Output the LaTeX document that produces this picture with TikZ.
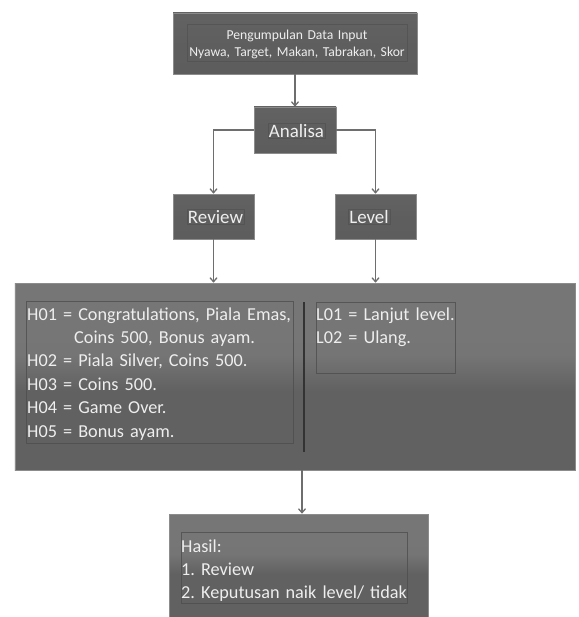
\documentclass[tikz,border=0pt]{standalone}
\usepackage{fontspec}
\setmainfont{Carlito}
\usetikzlibrary{arrows.meta}
\definecolor{txt}{HTML}{EEEEEE}
\definecolor{arrowcol}{HTML}{6E6E6E}
\definecolor{framecol}{HTML}{4E4E4E}
\definecolor{edgecol}{HTML}{8C8C8C}
\pgfdeclareverticalshading{bigshade}{100bp}{color(0bp)=(edgecol); color(2bp)=(black!62); color(46bp)=(black!62); color(56bp)=(black!54); color(97bp)=(black!53); color(100bp)=(black!35)}
\pgfdeclareverticalshading{smallshade}{100bp}{color(0bp)=(black!55); color(3bp)=(black!64); color(50bp)=(black!63); color(96bp)=(black!60); color(100bp)=(black!45)}
\tikzset{
  bigbox/.style={shading=bigshade, draw=edgecol, line width=0.6bp, inner sep=0},
  smallbox/.style={shading=smallshade, draw=edgecol, line width=0.6bp, inner sep=0},
  textframe/.style={draw=framecol, draw opacity=0.8, line width=0.5bp, text=txt, inner sep=0},
  softframe/.style={draw=framecol, draw opacity=0.6, line width=0.4bp, text=txt, inner sep=1bp},
  arr/.style={draw=arrowcol, line width=1.3bp, -{Straight Barb[length=4bp,width=7bp]}},
  divline/.style={draw=black!80, line width=2bp},
  bodytext/.style={text=txt, inner sep=0, anchor=base west, align=left, font=\fontsize{18.3}{23.5}\selectfont},
}
\begin{document}
\frenchspacing
\begin{tikzpicture}[x=1bp,y=-1bp]
\useasboundingbox[fill=white] (0,0) rectangle (579,617);

% boxes
\node[smallbox, minimum width=244bp, minimum height=61bp] (input) at (295,43.5) {};
\node[smallbox, minimum width=82bp, minimum height=46bp] (analisa) at (295,130) {};
\node[smallbox, minimum width=81bp, minimum height=45bp] (review) at (213.5,216.5) {};
\node[smallbox, minimum width=81bp, minimum height=45bp] (level) at (375.5,216.5) {};
\node[bigbox, minimum width=560bp, minimum height=187bp] (big) at (295,376.5) {};
\node[bigbox, minimum width=259bp, minimum height=104bp] (hasil) at (298.5,566) {};

% text frames and texts
\node[softframe, inner sep=0, minimum width=220bp, minimum height=37bp] (inputframe) at (297,42.5) {};
\node[text=txt, inner sep=0, anchor=base, text width=230bp, align=center,
      font=\fontsize{13.7}{17}\selectfont] (inputtxt) at (297,39.5)
      {Pengumpulan Data Input\\Nyawa, Target, Makan, Tabrakan, Skor};
\node[softframe, font=\fontsize{19}{22}\selectfont] (analisatxt) at (296.5,131) {Analisa};
\node[softframe, font=\fontsize{19}{22}\selectfont] (reviewtxt) at (215.5,217) {Review};
\node[softframe, font=\fontsize{19}{22}\selectfont] (leveltxt) at (369,217) {Level};

\node[textframe, minimum width=267bp, minimum height=142bp] (leftframe) at (159.5,372) {};
\node[textframe, minimum width=139bp, minimum height=71bp] (rightframe) at (385.5,337.5) {};
\node[textframe, minimum width=226bp, minimum height=71bp] (hasilframe) at (294,567.5) {};

\node[bodytext, text width=270bp] (hlist) at (27,320)
  {H01 = Congratulations, Piala Emas,\\
   \hspace*{47bp}Coins 500, Bonus ayam.\\
   H02 = Piala Silver, Coins 500.\\
   H03 = Coins 500.\\
   H04 = Game Over.\\
   H05 = Bonus ayam.};
\node[bodytext, text width=140bp] (llist) at (316,320)
  {L01 = Lanjut level.\\
   L02 = Ulang.};
\node[bodytext, text width=230bp] (hasiltxt) at (181,552)
  {Hasil:\\
   1. Review\\
   2. Keputusan naik level/ tidak};

% divider
\coordinate (d1) at (303.5,302);
\coordinate (d2) at (303.5,452);
\draw[divline] (d1) -- (d2);

% connectors
\coordinate (out) at (302,0);
\draw[arr] (input) -- (analisa);
\draw[arr] (analisa.west) -| (review.north);
\draw[arr] (analisa.east) -| (level.north);
\draw[arr] (review.south) -- (review.south |- big.north);
\draw[arr] (level.south) -- (level.south |- big.north);
\draw[arr] (big.south -| out) -- (hasil.north -| out);
\end{tikzpicture}
\end{document}
